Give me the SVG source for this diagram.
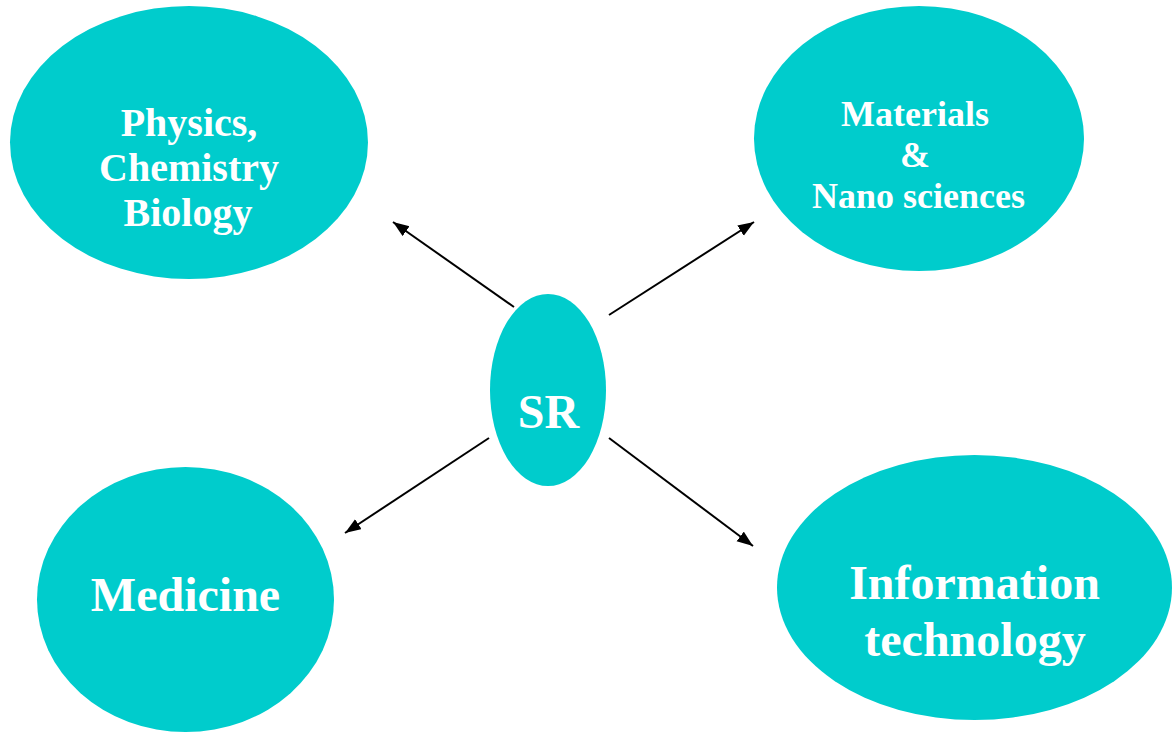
<svg xmlns="http://www.w3.org/2000/svg" width="1174" height="732" viewBox="0 0 1174 732">
  <style>
    .node { fill: #00CCCC; }
    .label { fill: #FFFFFF; font-family: "Liberation Serif", "Times New Roman", serif; font-weight: bold; text-anchor: middle; }
    .edge { stroke: #000000; stroke-width: 2; fill: none; marker-end: url(#arrow); }
  </style>
  <defs>
    <marker id="arrow" markerUnits="userSpaceOnUse" markerWidth="18" markerHeight="14" refX="16" refY="6" orient="auto">
      <path d="M0,0 L16,6 L0,12 Z" fill="#000000"/>
    </marker>
  </defs>
  <rect width="1174" height="732" fill="#FFFFFF"/>

  <g id="connectors">
    <line class="edge" x1="514" y1="307" x2="393" y2="222"/>
    <line class="edge" x1="609" y1="315" x2="754" y2="222"/>
    <line class="edge" x1="489" y1="438" x2="345" y2="533"/>
    <line class="edge" x1="609" y1="438" x2="753" y2="546"/>
  </g>

  <g id="node-physics">
    <ellipse class="node" cx="189" cy="142.5" rx="179" ry="136.5"/>
    <text class="label" font-size="40" x="189" y="136">Physics,</text>
    <text class="label" font-size="40" x="189" y="181">Chemistry</text>
    <text class="label" font-size="40" x="188" y="226">Biology</text>
  </g>

  <g id="node-materials">
    <ellipse class="node" cx="919" cy="138.5" rx="165" ry="132.5"/>
    <text class="label" font-size="36" x="915" y="126">Materials</text>
    <text class="label" font-size="36" x="915" y="167">&amp;</text>
    <text class="label" font-size="36" x="918.5" y="208">Nano sciences</text>
  </g>

  <g id="node-sr">
    <ellipse class="node" cx="548" cy="390" rx="58" ry="96"/>
    <text class="label" font-size="48" x="548.5" y="428">SR</text>
  </g>

  <g id="node-medicine">
    <ellipse class="node" cx="185.5" cy="599.5" rx="148.5" ry="132.5"/>
    <text class="label" font-size="48" x="185.5" y="611">Medicine</text>
  </g>

  <g id="node-it">
    <ellipse class="node" cx="974.5" cy="587.5" rx="197.5" ry="132.5"/>
    <text class="label" font-size="48" x="974.5" y="599">Information</text>
    <text class="label" font-size="48" x="975" y="656">technology</text>
  </g>
</svg>
